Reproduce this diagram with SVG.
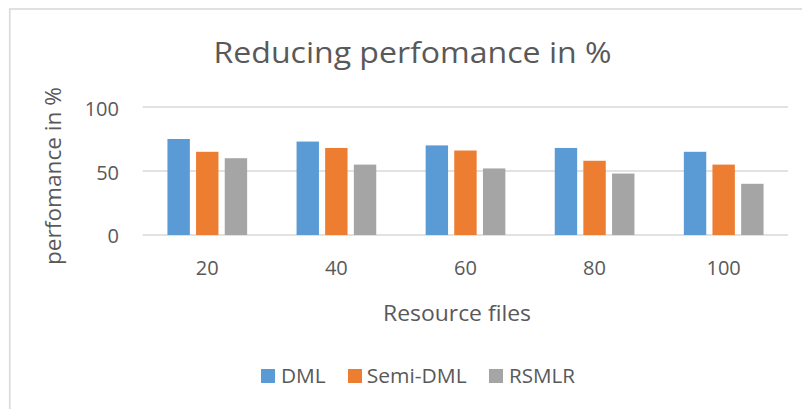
<svg xmlns="http://www.w3.org/2000/svg" width="802" height="409" viewBox="0 0 802 409">
<style>
text{font-family:"Open Sans","Liberation Sans",sans-serif;fill:#595959}
.grid{stroke:#d9d9d9;stroke-width:1.3;fill:none}
.dml{fill:#5b9bd5}
.semi{fill:#ed7d31}
.rs{fill:#a5a5a5}
.tick{font-size:20px}
.leg{font-size:20px}
</style>
<rect x="0" y="0" width="802" height="409" fill="#ffffff"/>
<rect x="9.75" y="9" width="820" height="430" fill="none" stroke="#d9d9d9" stroke-width="1.6"/>
<g id="title"><text x="412.5" y="63" font-size="29" text-anchor="middle" textLength="398" lengthAdjust="spacingAndGlyphs">Reducing perfomance in %</text></g>
<g id="gridlines">
<line class="grid" x1="142.7" y1="107" x2="788" y2="107"/>
<line class="grid" x1="142.7" y1="171" x2="788" y2="171"/>
<line class="grid" x1="142.7" y1="235" x2="788" y2="235"/>
</g>
<g id="y-axis">
<text class="tick" x="119" y="116" text-anchor="end">100</text>
<text class="tick" x="119" y="179.5" text-anchor="end">50</text>
<text class="tick" x="119" y="242.5" text-anchor="end">0</text>
<text x="0" y="0" font-size="22" text-anchor="middle" textLength="178" lengthAdjust="spacingAndGlyphs" transform="translate(61 176) rotate(-90)">perfomance in %</text>
</g>
<g id="bars">
<rect class="dml" x="167.45" y="139" width="22.4" height="96"/>
<rect class="semi" x="196.05" y="151.8" width="22.4" height="83.2"/>
<rect class="rs" x="224.75" y="158.2" width="22.4" height="76.8"/>
<rect class="dml" x="296.55" y="141.56" width="22.4" height="93.44"/>
<rect class="semi" x="325.15" y="147.96" width="22.4" height="87.04"/>
<rect class="rs" x="353.85" y="164.6" width="22.4" height="70.4"/>
<rect class="dml" x="425.65" y="145.4" width="22.4" height="89.6"/>
<rect class="semi" x="454.25" y="150.52" width="22.4" height="84.48"/>
<rect class="rs" x="482.95" y="168.44" width="22.4" height="66.56"/>
<rect class="dml" x="554.75" y="147.96" width="22.4" height="87.04"/>
<rect class="semi" x="583.35" y="160.76" width="22.4" height="74.24"/>
<rect class="rs" x="612.05" y="173.56" width="22.4" height="61.44"/>
<rect class="dml" x="683.85" y="151.8" width="22.4" height="83.2"/>
<rect class="semi" x="712.45" y="164.6" width="22.4" height="70.4"/>
<rect class="rs" x="741.15" y="183.8" width="22.4" height="51.2"/>
</g>
<g id="x-axis">
<text class="tick" x="207.25" y="274.5" text-anchor="middle">20</text>
<text class="tick" x="336.35" y="274.5" text-anchor="middle">40</text>
<text class="tick" x="465.45" y="274.5" text-anchor="middle">60</text>
<text class="tick" x="594.55" y="274.5" text-anchor="middle">80</text>
<text class="tick" x="723.65" y="274.5" text-anchor="middle">100</text>
<text x="457" y="321" font-size="22" text-anchor="middle" textLength="148" lengthAdjust="spacingAndGlyphs">Resource files</text>
</g>
<g id="legend">
<rect class="dml" x="261" y="369" width="14" height="14"/>
<text class="leg" x="281" y="383.3" textLength="44.7" lengthAdjust="spacingAndGlyphs">DML</text>
<rect class="semi" x="348" y="369" width="14" height="14"/>
<text class="leg" x="366.7" y="383.3" textLength="100" lengthAdjust="spacingAndGlyphs">Semi-DML</text>
<rect class="rs" x="489" y="369" width="14" height="14"/>
<text class="leg" x="509" y="383.3" textLength="66" lengthAdjust="spacingAndGlyphs">RSMLR</text>
</g>
</svg>
